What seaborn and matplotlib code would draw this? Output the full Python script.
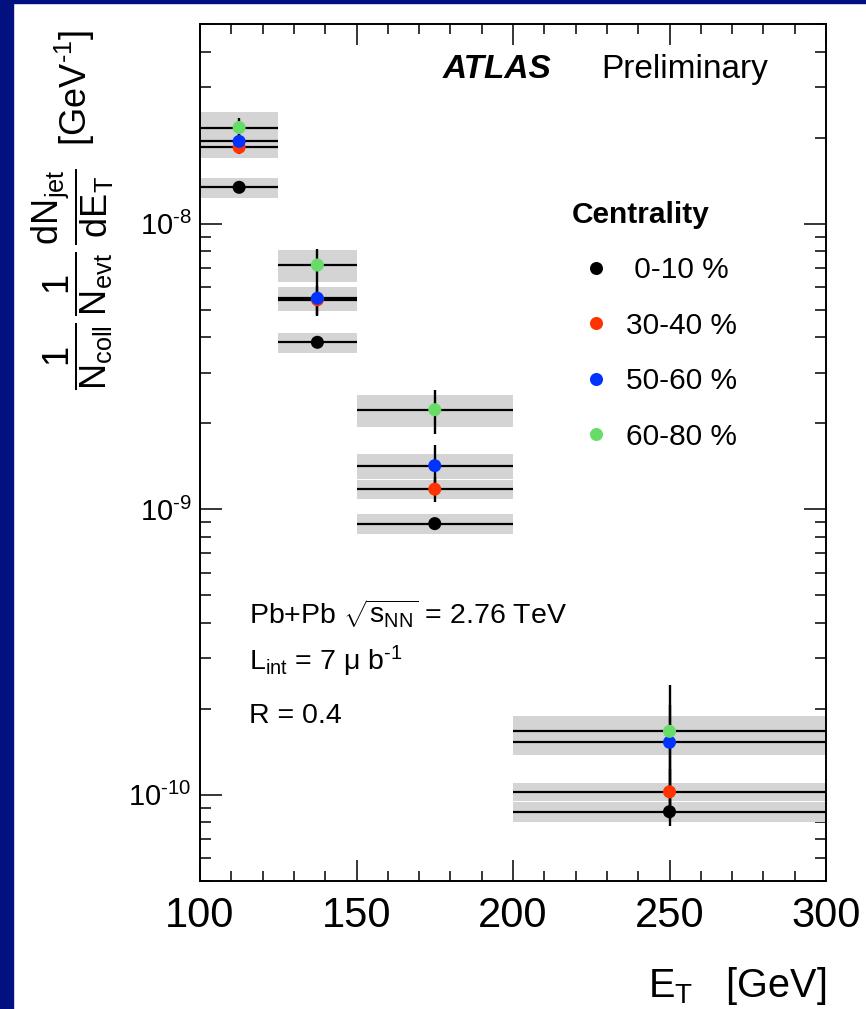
import matplotlib
matplotlib.use("Agg")
import matplotlib.pyplot as plt
import numpy as np
import pandas as pd
import seaborn as sns
from matplotlib.patches import Rectangle
from matplotlib.ticker import FuncFormatter, LogLocator, MultipleLocator, NullFormatter

# E_T bins [GeV]
bin_low = [100, 125, 150, 200]
bin_high = [125, 150, 200, 300]
bin_center = [112.5, 137.5, 175, 250]

centrality = [" 0-10 %", "30-40 %", "50-60 %", "60-80 %"]
colors = ["black", "#ff3300", "#0033ff", "#66dd66"]

# 1/Ncoll 1/Nevt dN/dE_T [GeV^-1]
yield_0_10 = [1.34e-8, 3.84e-9, 8.90e-10, 8.72e-11]
yield_30_40 = [1.85e-8, 5.41e-9, 1.175e-9, 1.024e-10]
yield_50_60 = [1.94e-8, 5.48e-9, 1.42e-9, 1.526e-10]
yield_60_80 = [2.17e-8, 7.16e-9, 2.23e-9, 1.667e-10]

# relative statistical errors (vertical bars)
stat_0_10 = [0.02, 0.03, 0.03, 0.11]
stat_30_40 = [0.05, 0.12, 0.10, 0.20]
stat_50_60 = [0.06, 0.13, 0.18, 0.35]
stat_60_80 = [0.08, 0.135, 0.175, 0.45]

# relative systematic errors (grey boxes)
sys_0_10 = [0.08, 0.08, 0.08, 0.08]
sys_30_40 = [0.08, 0.09, 0.075, 0.07]
sys_50_60 = [0.09, 0.095, 0.10, 0.10]
sys_60_80 = [0.13, 0.13, 0.13, 0.13]

W, H = 866, 1009


def px(x, y):
    """pixel position (from top-left) -> figure fraction"""
    return x / W, 1 - y / H


def decade_label(v, _pos):
    # ROOT style 10^{-8}, with a plain hyphen in the exponent
    return r"$10^{\text{-%d}}$" % round(-np.log10(v))


rows = []
for name, ys, st, sy in zip(
    centrality,
    [yield_0_10, yield_30_40, yield_50_60, yield_60_80],
    [stat_0_10, stat_30_40, stat_50_60, stat_60_80],
    [sys_0_10, sys_30_40, sys_50_60, sys_60_80],
):
    for lo, hi, c, y, s1, s2 in zip(bin_low, bin_high, bin_center, ys, st, sy):
        rows.append({"centrality": name, "lo": lo, "hi": hi, "et": c, "y": y, "stat": s1, "sys": s2})
df = pd.DataFrame(rows)

sns.set_style("ticks")
plt.rcParams["font.family"] = ["Liberation Sans", "DejaVu Sans"]
plt.rcParams["mathtext.fontset"] = "custom"
plt.rcParams["mathtext.rm"] = "Liberation Sans"
plt.rcParams["mathtext.it"] = "Liberation Sans:italic"
plt.rcParams["mathtext.bf"] = "Liberation Sans:bold"
for key in ["text.color", "axes.labelcolor", "xtick.color", "ytick.color", "axes.edgecolor"]:
    plt.rcParams[key] = "black"

fig = plt.figure(figsize=(W / 100, H / 100), dpi=100, facecolor="white")
navy = "#02117f"
fig.patches.append(Rectangle((0, 0), 12.7 / W, 1, transform=fig.transFigure, color=navy, zorder=0))
fig.patches.append(Rectangle((0, 1 - 3 / H), 1, 3 / H, transform=fig.transFigure, color=navy, zorder=0))

left, right = px(200, 0)[0], px(826, 0)[0]
bottom, top = px(0, 880.7)[1], px(0, 24)[1]
ax = fig.add_axes([left, bottom, right - left, top - bottom])
ax.set_yscale("log")

# systematic boxes first, then lines, then points
for _, r in df.iterrows():
    ax.fill_between([r.lo, r.hi], r.y * (1 - r.sys), r.y * (1 + r.sys),
                    color="#d4d4d4", lw=0, zorder=1)
ax.hlines(df["y"], df["lo"], df["hi"], color="black", lw=1.6, zorder=2)
ax.vlines(df["et"], df["y"] * (1 - df["stat"]), df["y"] * (1 + df["stat"]),
          color="black", lw=1.7, zorder=3)

sns.scatterplot(data=df, x="et", y="y", hue="centrality", hue_order=centrality,
                palette=colors, s=88, linewidth=0, ax=ax, zorder=4)

ax.set_xlim(100, 300)
ax.set_ylim(5e-11, 5e-8)
# axis titles are drawn by hand below
ax.xaxis.label.set_visible(False)
ax.yaxis.label.set_visible(False)

ax.xaxis.set_major_locator(MultipleLocator(50))
ax.xaxis.set_minor_locator(MultipleLocator(10))
ax.yaxis.set_major_locator(LogLocator(base=10, numticks=10))
ax.yaxis.set_major_formatter(FuncFormatter(decade_label))
ax.yaxis.set_minor_locator(LogLocator(base=10, subs=np.arange(2, 10), numticks=20))
ax.yaxis.set_minor_formatter(NullFormatter())
ax.tick_params(which="both", direction="in", top=True, right=True, width=1.1, color="black")
ax.tick_params(axis="x", which="major", length=15, labelsize=30, pad=11)
ax.tick_params(axis="x", which="minor", length=7.5)
ax.tick_params(axis="y", which="major", length=16, labelsize=21, pad=6)
ax.tick_params(axis="y", which="minor", length=8)
for sp in ax.spines.values():
    sp.set_linewidth(1.4)

# legend rebuilt from the seaborn handles
old = ax.get_legend()
handles = old.legend_handles
labels = [t.get_text() for t in old.get_texts()]
old.remove()
ax.legend(handles, labels, title="Centrality", loc="upper left",
          bbox_to_anchor=((572 - 200) / 626, (880.7 - 201) / 856.7),
          frameon=False, fontsize=21.5, title_fontproperties={"weight": "bold", "size": 21.5},
          handlelength=1.6, handletextpad=0.2, labelspacing=0.92, markerscale=1.0,
          borderpad=0, borderaxespad=0, alignment="left")

fig.text(*px(443, 78.3), "ATLAS", fontsize=24, fontweight="bold", fontstyle="italic", va="baseline")
fig.text(*px(601, 78.3), "Preliminary", fontsize=24, va="baseline")

fig.text(*px(249, 623.3), r"Pb+Pb $\sqrt{\mathrm{s_{NN}}}$ = 2.76 TeV", fontsize=20.5, va="baseline")
fig.text(*px(249, 670), r"L$_{\mathrm{int}}$ = 7 μ b$^{\text{-1}}$", fontsize=20.5, va="baseline")
fig.text(*px(249, 723.3), "R = 0.4", fontsize=20.5, va="baseline")

fig.text(*px(826, 986), r"E$_{\mathrm{T}}$   [GeV]", fontsize=28.5, ha="right", va="center")
fig.text(*px(73, 210),
         r"$\dfrac{1}{\mathrm{N_{coll}}}\,\dfrac{1}{\mathrm{N_{evt}}}\,\dfrac{\mathrm{dN_{jet}}}{\mathrm{dE_{T}}}$  [GeV$^{\text{-1}}$]",
         fontsize=26, rotation=90, ha="center", va="center")

fig.savefig("out.png", dpi=100, facecolor=fig.get_facecolor())
